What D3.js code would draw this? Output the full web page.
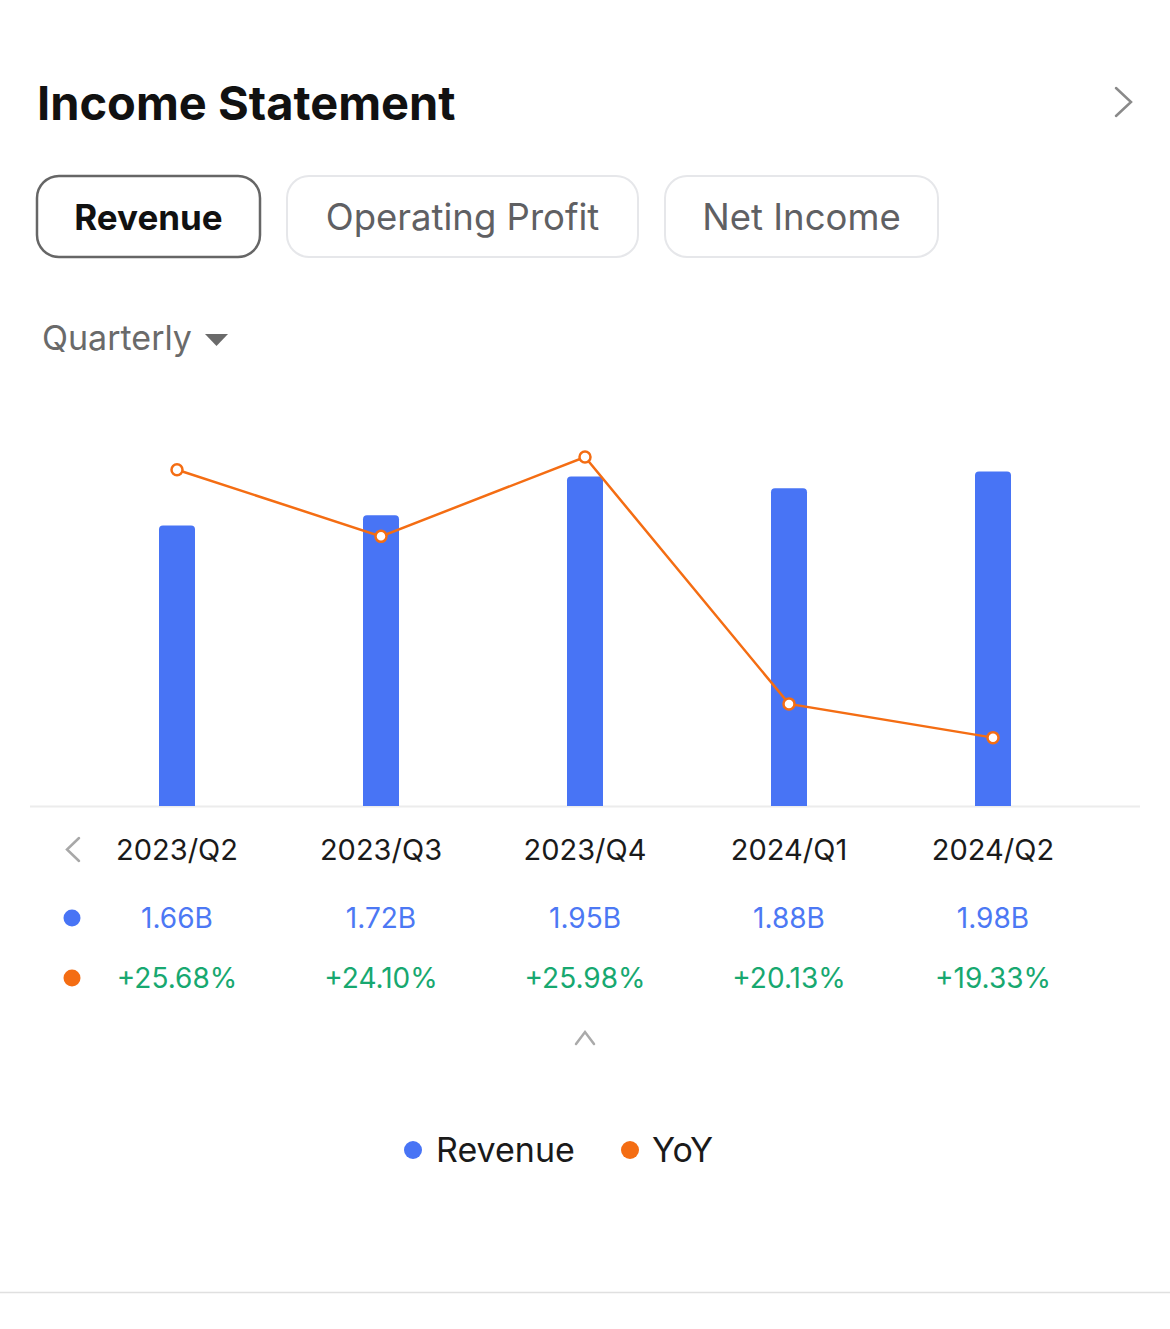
<!DOCTYPE html>
<html><head><meta charset="utf-8">
<script src="https://cdn.jsdelivr.net/npm/d3@7/dist/d3.min.js"></script>
<style>
html,body{margin:0;padding:0;background:#fff;}
svg{display:block;font-family:Inter, "Noto Sans", sans-serif;}
</style></head>
<body><svg id="c" width="1170" height="1329"></svg>
<script>
const categories = ["2023/Q2","2023/Q3","2023/Q4","2024/Q1","2024/Q2"];
const revenue = [1.66, 1.72, 1.95, 1.88, 1.98];
const revenueLabels = ["1.66B","1.72B","1.95B","1.88B","1.98B"];
const yoy = [25.68, 24.10, 25.98, 20.13, 19.33];
const yoyLabels = ["+25.68%","+24.10%","+25.98%","+20.13%","+19.33%"];
const tabs = ["Revenue","Operating Profit","Net Income"];
const legendItems = ["Revenue","YoY"];

const BLUE = "#4874F5", ORANGE = "#F46D13", GREEN = "#17A870";
const svg = d3.select("#c");

// Header
svg.append("text").attr("x",37).attr("y",120).attr("font-size",47).attr("font-weight",700)
  .attr("fill","#111").text("Income Statement");
svg.append("path").attr("d","M1116,88 L1131,102 L1116,116").attr("fill","none")
  .attr("stroke","#8a8a8a").attr("stroke-width",2.5).attr("stroke-linecap","round");

// Tabs
const tabBoxes = [[37,260],[287,638],[665,938]];
tabs.forEach((t,i)=>{
  const [x0,x1] = tabBoxes[i];
  svg.append("rect").attr("x",x0).attr("y",176).attr("width",x1-x0).attr("height",81).attr("rx",22)
    .attr("fill","#fff").attr("stroke", i===0?"#666":"#e6e7ea").attr("stroke-width",i===0?2.5:2);
  svg.append("text").attr("x",(x0+x1)/2).attr("y",230).attr("text-anchor","middle")
    .attr("font-size",i===0?35:36.5).attr("font-weight",i===0?700:400).attr("fill",i===0?"#111":"#5f6063").text(t);
});

// Quarterly dropdown
svg.append("text").attr("x",42).attr("y",350).attr("font-size",34).attr("fill","#6a6a6a").text("Quarterly");
svg.append("path").attr("d","M205,334 L228,334 L216.5,346 Z").attr("fill","#6a6a6a");

// Chart scales
const x = d3.scalePoint().domain(categories).range([177,993]);
const yBar = d3.scaleLinear().domain([0,2.0]).range([806,468]);
const yLine = d3.scaleLinear().domain([17.71,25.72]).range([806,468]);
const bw = 36, r = 4;

svg.append("line").attr("x1",30).attr("x2",1140).attr("y1",806.5).attr("y2",806.5)
  .attr("stroke","#ececec").attr("stroke-width",2);

svg.append("g").selectAll("path").data(revenue).join("path")
  .attr("fill",BLUE)
  .attr("d",(d,i)=>{
    const cx = x(categories[i]), x0 = cx-bw/2, x1 = cx+bw/2, yt = yBar(d), yb = yBar(0);
    return `M${x0},${yb} L${x0},${yt+r} Q${x0},${yt} ${x0+r},${yt} L${x1-r},${yt} Q${x1},${yt} ${x1},${yt+r} L${x1},${yb} Z`;
  });

const line = d3.line().x((d,i)=>x(categories[i])).y(d=>yLine(d));
svg.append("path").datum(yoy).attr("d",line).attr("fill","none").attr("stroke",ORANGE).attr("stroke-width",2.5);
svg.append("g").selectAll("circle").data(yoy).join("circle")
  .attr("cx",(d,i)=>x(categories[i])).attr("cy",d=>yLine(d)).attr("r",5.5)
  .attr("fill","#fff").attr("stroke",ORANGE).attr("stroke-width",2.5);

// Category labels
svg.append("path").attr("d","M79,838 L67,849.5 L79,861").attr("fill","none")
  .attr("stroke","#a8a8a8").attr("stroke-width",2.5).attr("stroke-linecap","round");
svg.append("g").selectAll("text").data(categories).join("text")
  .attr("x",d=>x(d)).attr("y",860).attr("text-anchor","middle").attr("font-size",29)
  .attr("fill","#1a1a1a").text(d=>d);

// Value rows
svg.append("circle").attr("cx",72).attr("cy",918).attr("r",8.5).attr("fill",BLUE);
svg.append("g").selectAll("text").data(revenueLabels).join("text")
  .attr("x",(d,i)=>x(categories[i])).attr("y",928).attr("text-anchor","middle").attr("font-size",28)
  .attr("fill","#4c78f4").text(d=>d);
svg.append("circle").attr("cx",72).attr("cy",978).attr("r",8.5).attr("fill",ORANGE);
svg.append("g").selectAll("text").data(yoyLabels).join("text")
  .attr("x",(d,i)=>x(categories[i])).attr("y",988).attr("text-anchor","middle").attr("font-size",28)
  .attr("fill",GREEN).text(d=>d);

// Up chevron
svg.append("path").attr("d","M576,1044 L585,1032 L594,1044").attr("fill","none")
  .attr("stroke","#aaa").attr("stroke-width",2.5).attr("stroke-linecap","round");

// Legend
const legendX = [[413,436],[630,652]];
const legendColors = [BLUE, ORANGE];
legendItems.forEach((t,i)=>{
  svg.append("circle").attr("cx",legendX[i][0]).attr("cy",1150).attr("r",9).attr("fill",legendColors[i]);
  svg.append("text").attr("x",legendX[i][1]).attr("y",1162).attr("font-size",34).attr("fill","#1a1a1a").text(t);
});

svg.append("line").attr("x1",0).attr("x2",1170).attr("y1",1292.5).attr("y2",1292.5)
  .attr("stroke","#e0e0e0").attr("stroke-width",1.5);
</script></body></html>
